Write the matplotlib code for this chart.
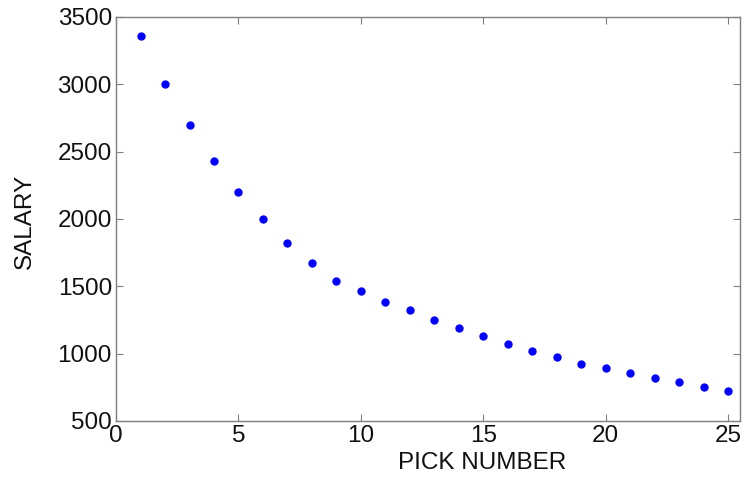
import matplotlib
matplotlib.use("Agg")
import matplotlib.pyplot as plt

# draft picks and salaries
pick = list(range(1, 26))
salary = [3355, 3000, 2700, 2431, 2203, 2000, 1824, 1671, 1540, 1463,
          1386, 1322, 1250, 1190, 1131, 1072, 1020, 973, 926, 891,
          854, 819, 787, 755, 725]

xticks = [0, 5, 10, 15, 20, 25]
yticks = [500, 1000, 1500, 2000, 2500, 3000, 3500]

plt.rcParams["font.family"] = ["Liberation Sans", "DejaVu Sans"]

fig = plt.figure(figsize=(7.44, 4.8), dpi=100)
ax = fig.add_axes([0.156, 0.123, 0.839, 0.842])
ax.plot(pick, salary, "o", color="#0000ff", ms=5, mec="#0000ff")

ax.set_xlim(0, 25.5)
ax.set_ylim(500, 3500)
ax.set_xticks(xticks)
ax.set_yticks(yticks)
ax.tick_params(direction="in", length=5, width=0.8, color="#7f7f7f",
               labelsize=17.5, labelcolor="#111111", top=True, right=True,
               pad=3)
for s in ax.spines.values():
    s.set_color("#7f7f7f")
    s.set_linewidth(1.0)

ax.set_xlabel("PICK NUMBER", fontsize=17.5, color="#111111", va="center")
ax.xaxis.set_label_coords(0.587, -0.105)
ax.set_ylabel("SALARY", fontsize=17.5, color="#111111", va="center")
ax.yaxis.set_label_coords(-0.146, 0.495)

fig.savefig("out.png", dpi=100)
